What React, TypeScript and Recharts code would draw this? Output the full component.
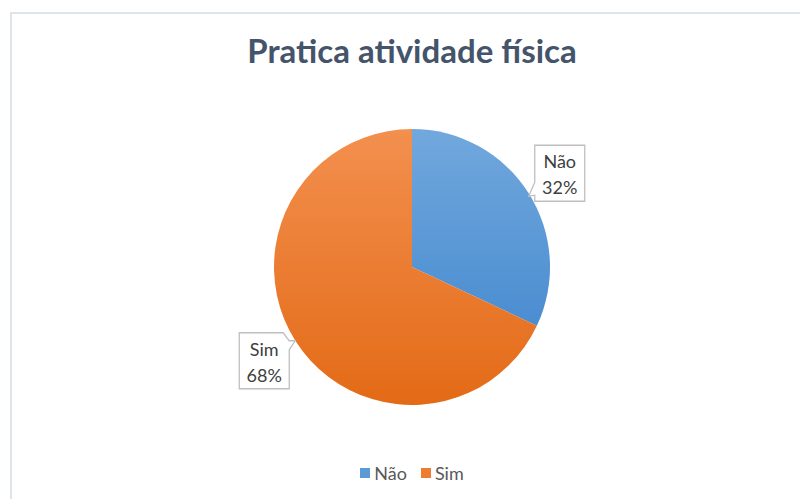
import { PieChart, Pie, Cell } from 'recharts'

const categories = ['Não', 'Sim']
const percentages = [32, 68]
const gradientIds = ['gradNao', 'gradSim']
const legendColors = ['#5b9bd5', '#ed7d31']

const data = categories.map((name, i) => ({ name, value: percentages[i] }))

const FONT = 'Lato, "Open Sans", sans-serif'

function CalloutLabel(props: any) {
  const { cx, cy, midAngle, outerRadius, name, value } = props
  const RAD = Math.PI / 180
  const r = outerRadius + 37
  const bx = cx + r * Math.cos(-midAngle * RAD)
  const by = cy + r * Math.sin(-midAngle * RAD)
  const w = 50
  const h = 56
  const x0 = bx - w / 2
  const y0 = by - h / 2
  const x1 = x0 + w
  const y1 = y0 + h
  let d: string
  if (bx > cx) {
    // pointer on left edge, near bottom
    d = `M${x0},${y0} L${x1},${y0} L${x1},${y1} L${x0},${y1} L${x0},${y1 - 6} L${x0 - 6},${y1 - 5} L${x0},${y1 - 19} Z`
  } else {
    // pointer on right edge, near top
    d = `M${x0},${y0} L${x1 - 6},${y0} L${x1},${y0 + 8} L${x1 + 6},${y0 + 8} L${x1},${y0 + 17} L${x1},${y1} L${x0},${y1} Z`
  }
  return (
    <g>
      <path d={d} fill="#ffffff" stroke="#bfbfbf" strokeWidth={1.3} />
      <text x={bx} y={by - 5} textAnchor="middle" fontSize={18} fill="#404040" fontFamily={FONT}>{name}</text>
      <text x={bx} y={by + 21} textAnchor="middle" fontSize={18} fill="#404040" fontFamily={FONT}>{value}%</text>
    </g>
  )
}

export default function App() {
  return (
    <div style={{ position: 'absolute', left: 0, top: 0, width: 800, height: 499, background: '#ffffff', overflow: 'hidden' }}>
      <div style={{ position: 'absolute', left: 10, top: 12, width: 800, height: 500, borderLeft: '2px solid #dfe4ea', borderTop: '2px solid #dfe4ea', boxSizing: 'border-box' }} />
      <div style={{ position: 'absolute', left: 0, top: 30, width: 824, textAlign: 'center', fontFamily: FONT, fontWeight: 700, fontSize: 33, color: '#44546a' }}>
        Pratica atividade física
      </div>
      <div style={{ position: 'absolute', left: 0, top: 0 }}>
        <PieChart width={800} height={499} margin={{ top: 0, right: 0, bottom: 0, left: 0 }}>
          <defs>
            <linearGradient id="gradNao" x1="0" y1="127" x2="0" y2="407" gradientUnits="userSpaceOnUse">
              <stop offset="0%" stopColor="#72a8dd" />
              <stop offset="100%" stopColor="#3a82cc" />
            </linearGradient>
            <linearGradient id="gradSim" x1="0" y1="127" x2="0" y2="407" gradientUnits="userSpaceOnUse">
              <stop offset="0%" stopColor="#f3904f" />
              <stop offset="100%" stopColor="#e36a16" />
            </linearGradient>
          </defs>
          <Pie
            data={data}
            dataKey="value"
            nameKey="name"
            cx={412}
            cy={267}
            outerRadius={138}
            startAngle={90}
            endAngle={-270}
            stroke="#ffffff"
            strokeWidth={0}
            label={CalloutLabel}
            labelLine={false}
            isAnimationActive={false}
          >
            {data.map((d, i) => (
              <Cell key={d.name} fill={`url(#${gradientIds[i]})`} />
            ))}
          </Pie>
        </PieChart>
      </div>
      <div style={{ position: 'absolute', left: 12, top: 462, width: 800, display: 'flex', justifyContent: 'center', gap: 14, fontFamily: FONT, fontSize: 18, color: '#595959' }}>
        {categories.map((c, i) => (
          <span key={c} style={{ display: 'flex', alignItems: 'center' }}>
            <span style={{ display: 'inline-block', width: 10, height: 10, background: legendColors[i], marginRight: 4 }} />
            {c}
          </span>
        ))}
      </div>
    </div>
  )
}
